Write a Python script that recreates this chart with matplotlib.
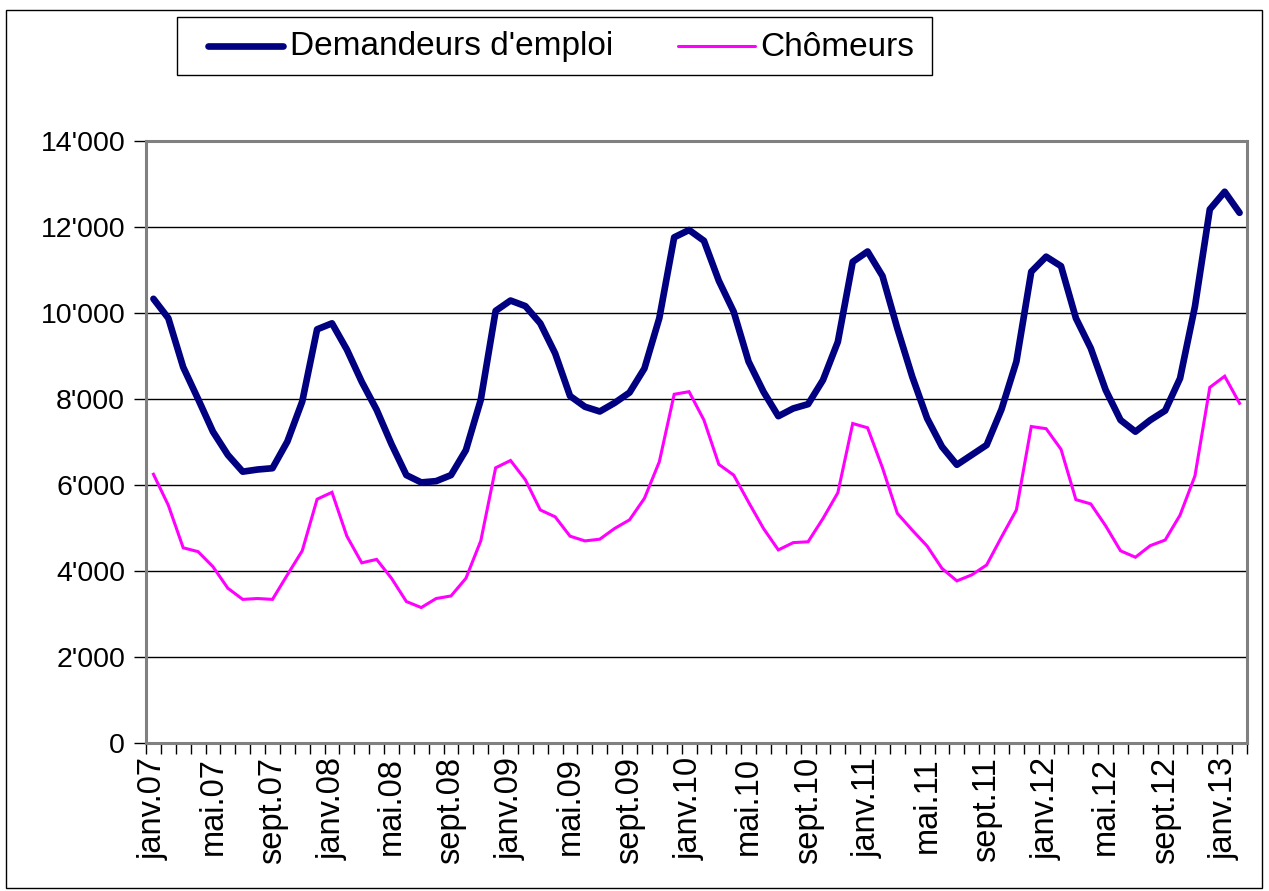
import numpy as np
import matplotlib
matplotlib.use("Agg")
import matplotlib.pyplot as plt
from matplotlib.patches import Rectangle
from matplotlib.lines import Line2D
from matplotlib.ticker import FuncFormatter, FixedLocator

plt.rcParams['font.family'] = ['Liberation Sans', 'DejaVu Sans']

# ---- data (janv.07 .. févr.13, monthly) ----
months_fr = ['janv.', 'févr.', 'mars.', 'avr.', 'mai.', 'juin.',
             'juil.', 'août.', 'sept.', 'oct.', 'nov.', 'déc.']
years = ['07', '08', '09', '10', '11', '12', '13']

demandeurs = [10330, 9880, 8740, 8000, 7240, 6700, 6310, 6360, 6390, 7010, 7940, 9620,
              9760, 9150, 8400, 7750, 6950, 6230, 6060, 6090, 6230, 6810, 7980, 10050,
              10290, 10160, 9760, 9060, 8070, 7820, 7710, 7910, 8150, 8710, 9880, 11760,
              11930, 11680, 10750, 10030, 8870, 8170, 7600, 7780, 7880, 8440, 9330, 11190,
              11430, 10860, 9640, 8520, 7550, 6890, 6470, 6700, 6930, 7760, 8870, 10960,
              11310, 11090, 9880, 9180, 8210, 7510, 7240, 7510, 7730, 8480, 10150, 12410,
              12820, 12330]

chomeurs = [6250, 5530, 4540, 4450, 4100, 3600, 3340, 3360, 3340, 3910, 4470, 5670,
            5830, 4810, 4190, 4270, 3830, 3290, 3150, 3360, 3420, 3830, 4700, 6400,
            6570, 6120, 5420, 5260, 4810, 4700, 4740, 4990, 5190, 5690, 6540, 8110,
            8170, 7510, 6480, 6230, 5600, 4990, 4490, 4660, 4680, 5220, 5820, 7430,
            7330, 6400, 5340, 4950, 4580, 4060, 3770, 3910, 4140, 4790, 5420, 7360,
            7310, 6830, 5660, 5560, 5050, 4470, 4320, 4590, 4720, 5300, 6210, 8270,
            8530, 7900]

series_names = ["Demandeurs d'emploi", "Chômeurs"]
series_colors = ['#000080', '#FF00FF']
series_widths = [4.8, 2.2]
y_ticks = [0, 2000, 4000, 6000, 8000, 10000, 12000, 14000]

n = len(demandeurs)
labels = [months_fr[i % 12] + years[i // 12] for i in range(n)]

W, H = 1269, 891
fig = plt.figure(figsize=(W / 100, H / 100), dpi=100)
ax = fig.add_axes([146 / W, 1 - 743 / H, (1247 - 146) / W, (743 - 141) / H])

x = np.arange(n)
ax.plot(x, demandeurs, color=series_colors[0], lw=series_widths[0], solid_joinstyle='round',
        solid_capstyle='round', zorder=4)
ax.plot(x, chomeurs, color=series_colors[1], lw=series_widths[1], solid_joinstyle='miter',
        zorder=3)

ax.set_xlim(-0.5, n - 0.5)
ax.set_ylim(0, 14000)

# y axis
ax.set_yticks(y_ticks)
ax.yaxis.set_major_formatter(FuncFormatter(lambda v, p: f"{int(v):,}".replace(',', "'")))
ax.yaxis.grid(True, color='#000000', lw=1.0)
ax.set_axisbelow(True)
ax.tick_params(axis='y', direction='out', length=9, width=1, color='#000000',
               labelsize=20.5, pad=6)

# x axis: labels every 4 months centered in category, ticks at boundaries
major = list(range(0, n, 4))
ax.xaxis.set_major_locator(FixedLocator(major))
ax.set_xticklabels([labels[i] for i in major], rotation=90, fontsize=23.5)
ax.xaxis.set_minor_locator(FixedLocator(np.arange(-0.5, n, 1.0)))
ax.tick_params(axis='x', which='major', length=0, pad=10)
ax.tick_params(axis='x', which='minor', direction='out', length=8, width=1, color='#000000')

for s in ['left', 'right', 'top', 'bottom']:
    ax.spines[s].set_color('#808080')
    ax.spines[s].set_linewidth(2.2)

# legend (drawn manually to match the reference layout)
def fx(px):
    return px / W

def fy(py):
    return 1 - py / H

fig.patches.append(Rectangle((fx(177), fy(75)), fx(932) - fx(177), fy(17) - fy(75),
                             transform=fig.transFigure, fill=False,
                             edgecolor='#000000', lw=1.0, zorder=5))
handle_x = [(208, 283), (678, 755)]
text_x = [290, 760]
for name, col, lw, (hx0, hx1), tx in zip(series_names, series_colors, series_widths,
                                          handle_x, text_x):
    fig.lines.append(Line2D([fx(hx0), fx(hx1)], [fy(46), fy(46)], transform=fig.transFigure,
                            color=col, lw=lw, solid_capstyle='round'))
    fig.text(fx(tx), fy(47), name, fontsize=24, ha='left', va='center', color='#000000')

# outer border
fig.patches.append(Rectangle((6 / W, 1 - 888 / H), (1262 - 6) / W, (888 - 10) / H,
                             transform=fig.transFigure, fill=False,
                             edgecolor='#000000', lw=1.0))

fig.savefig('out.png', dpi=100)
